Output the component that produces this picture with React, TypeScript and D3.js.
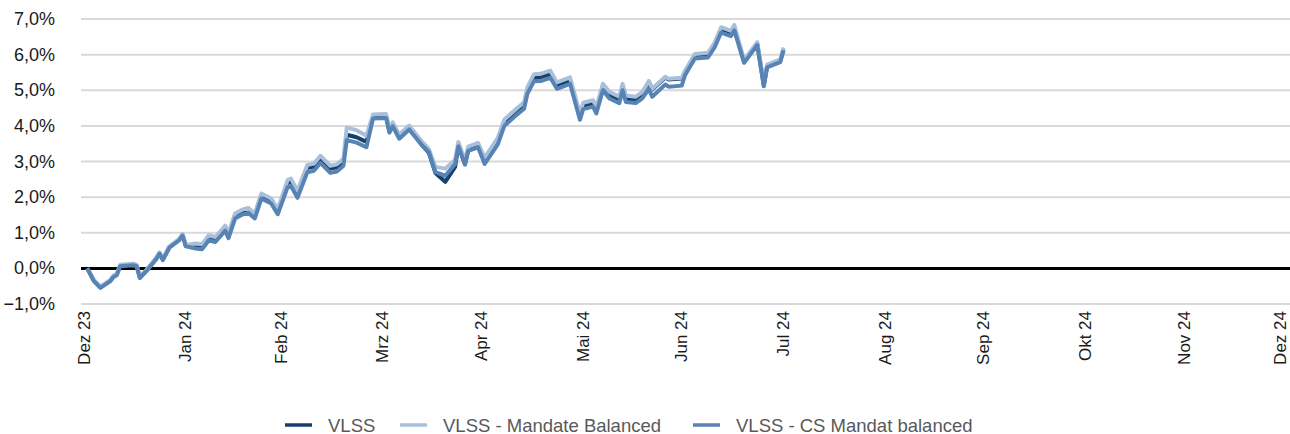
import React, { useEffect, useRef } from 'react'
import * as d3 from 'd3'

// Datum (Performance seit Jahresbeginn in %)
const DATES = [
    '2024-01-01', '2024-01-03', '2024-01-05', '2024-01-08', '2024-01-09', '2024-01-10', '2024-01-11', '2024-01-15', '2024-01-16',
    '2024-01-17', '2024-01-19', '2024-01-22', '2024-01-23', '2024-01-24', '2024-01-26', '2024-01-29', '2024-01-30', '2024-01-31',
    '2024-02-03', '2024-02-05', '2024-02-07', '2024-02-09', '2024-02-11', '2024-02-12', '2024-02-13', '2024-02-15', '2024-02-17',
    '2024-02-19', '2024-02-21', '2024-02-23', '2024-02-26', '2024-02-28',
    '2024-03-02', '2024-03-03', '2024-03-05', '2024-03-08', '2024-03-10', '2024-03-12', '2024-03-15', '2024-03-17', '2024-03-19',
    '2024-03-20', '2024-03-23', '2024-03-26', '2024-03-28',
    '2024-04-01', '2024-04-02', '2024-04-03', '2024-04-05', '2024-04-08', '2024-04-12', '2024-04-14', '2024-04-16', '2024-04-19',
    '2024-04-22', '2024-04-23', '2024-04-25', '2024-04-26', '2024-04-29',
    '2024-05-01', '2024-05-05', '2024-05-07', '2024-05-11', '2024-05-13', '2024-05-14', '2024-05-16', '2024-05-18', '2024-05-21',
    '2024-05-23', '2024-05-27', '2024-05-30', '2024-05-31',
    '2024-06-03', '2024-06-04', '2024-06-06', '2024-06-08', '2024-06-11', '2024-06-12', '2024-06-13', '2024-06-16', '2024-06-18',
    '2024-06-20', '2024-06-21', '2024-06-25', '2024-06-26', '2024-06-30',
    '2024-07-01', '2024-07-04', '2024-07-08', '2024-07-10', '2024-07-12', '2024-07-15', '2024-07-16', '2024-07-19', '2024-07-23',
    '2024-07-25', '2024-07-26', '2024-07-30', '2024-07-31'
]

const VLSS = [
    0.00, -0.34, -0.53, -0.34, -0.22, -0.17, 0.08, 0.11, 0.08, -0.25, -0.06, 0.28, 0.43, 0.25, 0.60, 0.81, 0.94, 0.64,
    0.66, 0.64, 0.89, 0.84, 1.05, 1.16, 0.95, 1.50, 1.60, 1.66, 1.50, 2.06, 1.92, 1.62,
    2.40, 2.44, 2.10, 2.82, 2.86, 3.08, 2.80, 2.84, 3.00, 3.75, 3.68, 3.55, 4.25,
    4.26, 3.85, 4.03, 3.68, 3.94, 3.45, 3.25, 2.68, 2.43, 2.85, 3.45, 2.93, 3.32, 3.42,
    3.03, 3.58, 4.10, 4.43, 4.58, 5.00, 5.35, 5.36, 5.45, 5.14, 5.28, 4.27, 4.57,
    4.62, 4.43, 5.08, 4.85, 4.72, 5.08, 4.75, 4.72, 4.85, 5.24, 5.02, 5.36, 5.30, 5.33,
    5.50, 5.97, 6.00, 6.28, 6.72, 6.62, 6.78, 5.80, 6.30, 5.14, 5.67, 5.82, 6.15
]

const MANDATE_BALANCED = [
    0.00, -0.32, -0.51, -0.32, -0.20, -0.15, 0.10, 0.13, 0.10, -0.23, -0.04, 0.30, 0.45, 0.27, 0.62, 0.83, 0.96, 0.66,
    0.70, 0.68, 0.93, 0.88, 1.09, 1.20, 0.99, 1.54, 1.64, 1.70, 1.54, 2.10, 1.96, 1.66,
    2.48, 2.52, 2.18, 2.90, 2.94, 3.16, 2.88, 2.92, 3.08, 3.95, 3.88, 3.72, 4.32,
    4.33, 3.92, 4.10, 3.75, 4.01, 3.55, 3.35, 2.85, 2.80, 3.05, 3.55, 3.03, 3.42, 3.52,
    3.11, 3.66, 4.18, 4.51, 4.66, 5.08, 5.45, 5.46, 5.55, 5.22, 5.36, 4.35, 4.65,
    4.72, 4.53, 5.18, 4.95, 4.82, 5.18, 4.85, 4.82, 4.95, 5.26, 5.04, 5.38, 5.32, 5.35,
    5.55, 6.02, 6.05, 6.33, 6.77, 6.67, 6.83, 5.85, 6.35, 5.19, 5.72, 5.87, 6.20
]

const CS_MANDAT = [
    0.00, -0.36, -0.55, -0.36, -0.24, -0.19, 0.06, 0.09, 0.06, -0.27, -0.08, 0.26, 0.41, 0.23, 0.58, 0.79, 0.92, 0.62,
    0.56, 0.54, 0.79, 0.74, 0.95, 1.06, 0.85, 1.40, 1.50, 1.56, 1.40, 1.96, 1.82, 1.52,
    2.28, 2.32, 1.98, 2.70, 2.74, 2.96, 2.68, 2.72, 2.88, 3.60, 3.53, 3.40, 4.21,
    4.22, 3.81, 3.99, 3.64, 3.90, 3.45, 3.27, 2.70, 2.60, 2.93, 3.43, 2.91, 3.30, 3.40,
    2.93, 3.48, 4.00, 4.33, 4.48, 4.90, 5.25, 5.26, 5.35, 5.04, 5.18, 4.17, 4.47,
    4.54, 4.35, 5.00, 4.77, 4.64, 5.00, 4.67, 4.64, 4.77, 5.04, 4.82, 5.16, 5.10, 5.13,
    5.42, 5.89, 5.92, 6.20, 6.62, 6.52, 6.68, 5.77, 6.27, 5.11, 5.64, 5.79, 6.12
]

const Y_TICKS = [-1, 0, 1, 2, 3, 4, 5, 6, 7]
const MONTH_LABELS = ['Dez 23', 'Jan 24', 'Feb 24', 'Mrz 24', 'Apr 24', 'Mai 24', 'Jun 24', 'Jul 24', 'Aug 24', 'Sep 24', 'Okt 24', 'Nov 24', 'Dez 24']
const SERIES_NAMES = ['VLSS', 'VLSS - Mandate Balanced', 'VLSS - CS Mandat balanced']
const SERIES_COLORS = ['#173f6b', '#a9c0dc', '#5884b5']

const W = 1290, H = 434
const FONT = '"Liberation Sans", Arial, sans-serif'

const App = () => {
    const ref = useRef<SVGSVGElement>(null)

    useEffect(() => {
        const svg = d3.select(ref.current)
        svg.selectAll('*').remove()

        const parse = d3.utcParse('%Y-%m-%d')
        const xDates = DATES.map(d => parse(d) as Date)

        // Monatsende als Ticks (31.12.2023 ... 31.12.2024)
        const monthEnds = d3.utcMonth.range(new Date(Date.UTC(2024, 0, 1)), new Date(Date.UTC(2025, 0, 2)))
            .map(m => d3.utcDay.offset(m, -1))

        const x = d3.scaleUtc()
            .domain([monthEnds[0], monthEnds[monthEnds.length - 1]])
            .range([84, 1286])
        const y = d3.scaleLinear().domain([-1, 7]).range([304, 19])

        const gridLeft = 81, gridRight = 1290

        // Gitternetz
        svg.append('g').selectAll('line').data(Y_TICKS.filter(t => t !== 0)).join('line')
            .attr('x1', gridLeft).attr('x2', gridRight)
            .attr('y1', d => y(d)).attr('y2', d => y(d))
            .attr('stroke', '#d9d9d9').attr('stroke-width', 2)

        svg.append('line')
            .attr('x1', gridLeft).attr('x2', gridRight)
            .attr('y1', y(0)).attr('y2', y(0))
            .attr('stroke', '#000').attr('stroke-width', 3)

        // Y-Achse
        svg.append('g').selectAll('text').data(Y_TICKS).join('text')
            .attr('x', 55).attr('y', d => y(d))
            .attr('text-anchor', 'end').attr('dominant-baseline', 'central')
            .attr('font-family', FONT).attr('font-size', 18).attr('fill', '#1a1a1a')
            .text(d => d3.format('.1f')(d).replace('.', ',') + '%')

        // X-Achse (letztes Label nicht abschneiden)
        svg.append('g').selectAll('text').data(monthEnds).join('text')
            .attr('transform', d => `translate(${Math.min(x(d), 1280)},311) rotate(-90)`)
            .attr('text-anchor', 'end').attr('dominant-baseline', 'central')
            .attr('font-family', FONT).attr('font-size', 17).attr('fill', '#1a1a1a')
            .text((d, i) => MONTH_LABELS[i])

        // Linien
        const series = [VLSS, MANDATE_BALANCED, CS_MANDAT]
        const line = d3.line<number>()
            .x((d, i) => x(xDates[i]))
            .y(d => y(d))

        series.forEach((s, k) => {
            svg.append('path')
                .datum(s)
                .attr('d', line)
                .attr('fill', 'none')
                .attr('stroke', SERIES_COLORS[k])
                .attr('stroke-width', 4)
                .attr('stroke-linejoin', 'round')
        })

        // Legende
        const legendX = [285, 400, 693]
        const lg = svg.append('g').selectAll('g').data(SERIES_NAMES).join('g')
            .attr('transform', (d, i) => `translate(${legendX[i]},425)`)
        lg.append('line')
            .attr('x1', 0).attr('x2', 27).attr('y1', 0).attr('y2', 0)
            .attr('stroke', (d, i) => SERIES_COLORS[i]).attr('stroke-width', 3.5)
        lg.append('text')
            .attr('x', 43).attr('y', 0)
            .attr('dominant-baseline', 'central')
            .attr('font-family', FONT).attr('font-size', 18.5).attr('fill', '#595959')
            .text(d => d)
    }, [])

    return (
        <div style={{ position: 'absolute', left: 0, top: 0, width: W, height: H, background: '#fff' }}>
            <svg ref={ref} width={W} height={H} style={{ display: 'block' }} />
        </div>
    )
}

export default App
